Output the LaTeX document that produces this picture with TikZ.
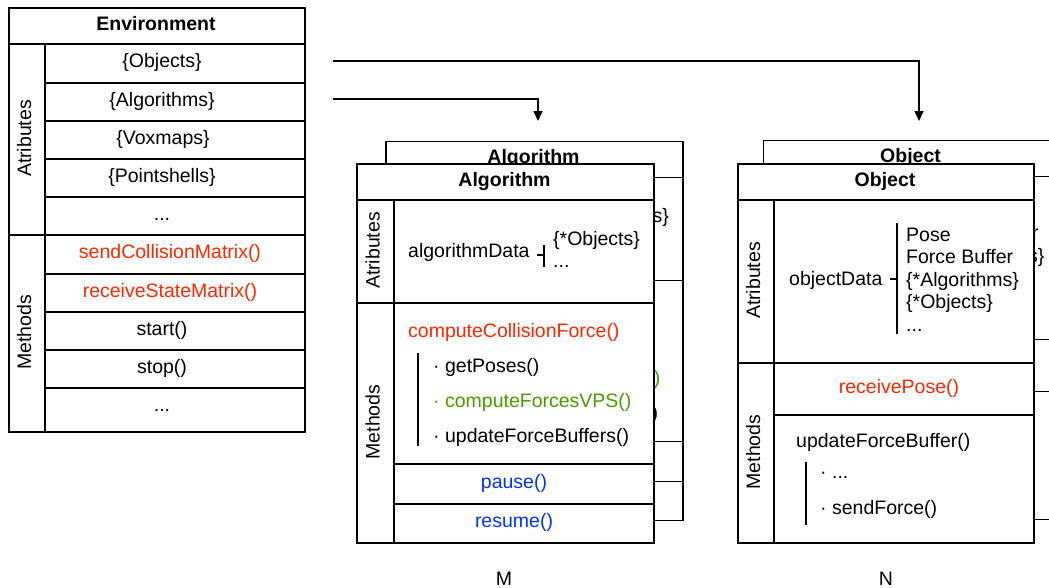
\documentclass[tikz,border=0pt]{standalone}
\usepackage{fontspec}
\setmainfont{Liberation Sans}
\usetikzlibrary{arrows.meta}

\definecolor{callred}{RGB}{255,38,0}
\definecolor{callgreen}{RGB}{77,153,0}
\definecolor{callblue}{RGB}{0,51,255}

\tikzset{
  cell/.style={draw, line width=1.6pt, rectangle, anchor=north west, inner sep=0pt, fill=white},
  txt/.style={inner sep=0pt, text height=14pt, text depth=4pt, font=\fontsize{19.5}{23}\selectfont},
  ltxt/.style={txt, anchor=west},
  title/.style={txt, font=\fontsize{19.5}{23}\selectfont\bfseries},
  side/.style={txt, rotate=90},
  bar/.style={line width=1.6pt},
  link/.style={line width=1.6pt, -{Triangle[length=10pt,width=9pt]}},
}

% one framed cell: name, left, top, width, height
\newcommand\boxcell[5]{\node[cell, minimum width=#4pt, minimum height=#5pt] (#1) at (#2,#3) {};}

% class box "Algorithm": name prefix, x shift, y shift
\newcommand\algorithmbox[3]{%
\begin{scope}[shift={(#2,#3)}]
  \boxcell{#1H}{356}{163}{297}{36}
  \boxcell{#1A}{356}{199}{37}{103}
  \boxcell{#1M}{356}{302}{37}{240}
  \boxcell{#1RA}{393}{199}{260}{103}
  \boxcell{#1RC}{393}{302}{260}{161}
  \boxcell{#1RP}{393}{463}{260}{40}
  \boxcell{#1RR}{393}{503}{260}{39}
  \node[title] (#1T) at (504.5,181) {Algorithm};
  \node[side] (#1At) at (374.5,250.5) {Atributes};
  \node[side] (#1Mt) at (374.5,422) {Methods};
  \node[ltxt] (#1data) at (408,252) {algorithmData};
  \coordinate (#1tick) at (537,255);
  \coordinate (#1barT) at (544,245);
  \coordinate (#1barB) at (544,267);
  \draw[bar] (#1tick) -- (#1barT |- #1tick);
  \draw[bar] (#1barT) -- (#1barB);
  \node[ltxt] (#1d1) at (553,240) {\{*Objects\}};
  \node[ltxt] (#1d2) at (553,262) {...};
  \node[ltxt, text=callred] (#1c) at (408,332) {computeCollisionForce()};
  \coordinate (#1cT) at (418,353);
  \coordinate (#1cB) at (418,446);
  \draw[bar] (#1cT) -- (#1cB);
  \node[ltxt] (#1c1) at (433,367) {· getPoses()};
  \node[ltxt, text=callgreen] (#1c2) at (433,402) {· computeForcesVPS()};
  \node[ltxt] (#1c3) at (433,437) {· updateForceBuffers()};
  \node[txt, text=callblue] (#1p) at (514,483) {pause()};
  \node[txt, text=callblue] (#1r) at (514,522) {resume()};
\end{scope}}

% class box "Object": name prefix, x shift, y shift
\newcommand\objectbox[3]{%
\begin{scope}[shift={(#2,#3)}]
  \boxcell{#1H}{737}{163}{296}{36}
  \boxcell{#1A}{737}{199}{36}{163}
  \boxcell{#1M}{737}{362}{36}{180}
  \boxcell{#1RA}{773}{199}{260}{163}
  \boxcell{#1RP}{773}{362}{260}{52}
  \boxcell{#1RU}{773}{414}{260}{128}
  \node[title] (#1T) at (885,181) {Object};
  \node[side] (#1At) at (755,280.5) {Atributes};
  \node[side] (#1Mt) at (755,452) {Methods};
  \node[ltxt] (#1data) at (789,280) {objectData};
  \coordinate (#1tick) at (890,279);
  \coordinate (#1barT) at (897,223);
  \coordinate (#1barB) at (897,334);
  \draw[bar] (#1tick) -- (#1barT |- #1tick);
  \draw[bar] (#1barT) -- (#1barB);
  \node[ltxt] (#1d1) at (906,236) {Pose};
  \node[ltxt] (#1d2) at (906,258) {Force Buffer};
  \node[ltxt] (#1d3) at (906,281) {\{*Algorithms\}};
  \node[ltxt] (#1d4) at (906,303) {\{*Objects\}};
  \node[ltxt] (#1d5) at (906,326) {...};
  \node[txt, text=callred] (#1p) at (899,388) {receivePose()};
  \node[ltxt] (#1u) at (796,442) {updateForceBuffer()};
  \coordinate (#1uT) at (806,462);
  \coordinate (#1uB) at (806,525);
  \draw[bar] (#1uT) -- (#1uB);
  \node[ltxt] (#1u1) at (820,473) {· ...};
  \node[ltxt] (#1u2) at (820,509) {· sendForce()};
\end{scope}}

\begin{document}
\begin{tikzpicture}[x=1pt, y=-1pt]
  \useasboundingbox (0,0) rectangle (1049,587);
  \clip (0,0) rectangle (1049,587);

  % Environment class
  \boxcell{envH}{8}{7}{296}{36}
  \boxcell{envA}{8}{43}{36}{191}
  \boxcell{envM}{8}{234}{36}{197}
  \boxcell{envR1}{44}{43}{260}{39}
  \boxcell{envR2}{44}{82}{260}{38}
  \boxcell{envR3}{44}{120}{260}{38}
  \boxcell{envR4}{44}{158}{260}{38}
  \boxcell{envR5}{44}{196}{260}{38}
  \boxcell{envM1}{44}{234}{260}{39}
  \boxcell{envM2}{44}{273}{260}{38}
  \boxcell{envM3}{44}{311}{260}{38}
  \boxcell{envM4}{44}{349}{260}{38}
  \boxcell{envM5}{44}{387}{260}{44}
  \node[title] (envT) at (156,25) {Environment};
  \node[side] (envAt) at (26,138.5) {Atributes};
  \node[side] (envMt) at (26,332.5) {Methods};
  \node[txt] (envO) at (162,62.5) {\{Objects\}};
  \node[txt] (envAl) at (162,101) {\{Algorithms\}};
  \node[txt] (envV) at (163,139) {\{Voxmaps\}};
  \node[txt] (envP) at (162,177) {\{Pointshells\}};
  \node[txt] (envD1) at (162,215) {...};
  \node[txt, text=callred] (envS) at (170,253.5) {sendCollisionMatrix()};
  \node[txt, text=callred] (envRc) at (170,292) {receiveStateMatrix()};
  \node[txt] (envSt) at (162,330) {start()};
  \node[txt] (envSp) at (162,368) {stop()};
  \node[txt] (envD2) at (162,406) {...};

  % stacked instances: back copy first, front copy over it
  \algorithmbox{algB}{29}{-22.5}
  \algorithmbox{algF}{0}{0}
  \objectbox{objB}{25.5}{-23.5}
  \objectbox{objF}{0}{0}

  \node[txt] (labM) at (504,580) {M};
  \node[txt] (labN) at (886,580) {N};

  % links from the environment collections to the instances
  \coordinate (objSrc) at (333,61);
  \coordinate (objDst) at (919,121);
  \coordinate (algSrc) at (333,99);
  \coordinate (algDst) at (538,121);
  \draw[link] (objSrc) -| (objDst);
  \draw[link] (algSrc) -| (algDst);
\end{tikzpicture}
\end{document}
